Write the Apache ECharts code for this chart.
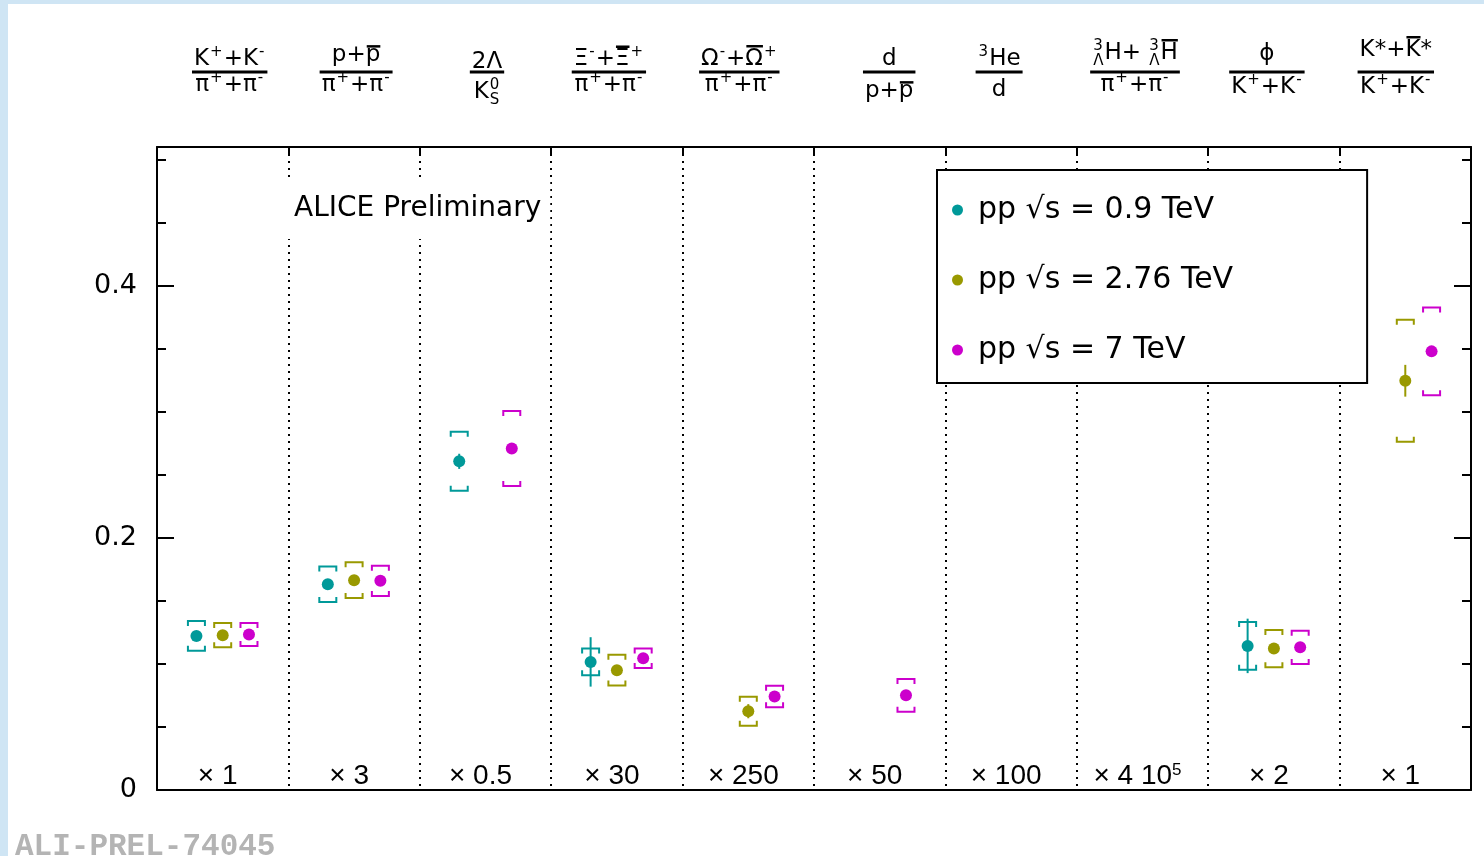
<!DOCTYPE html>
<html>
<head>
<meta charset="utf-8">
<script src="https://cdn.jsdelivr.net/npm/echarts@6/dist/echarts.min.js"></script>
<style>
  html, body { margin: 0; padding: 0; background: #fff; }
  #chart { width: 1484px; height: 856px; }
</style>
</head>
<body>
<div id="chart"></div>
<script>
// ---- particle ratio labels (TLatex-like markup: ^{} sup, _{} sub, #bar{} overline) ----
const numerators = ['K^{+}+K^{-}', 'p+#bar{p}', '2Λ', 'Ξ^{-}+#bar{Ξ}^{+}', 'Ω^{-}+#bar{Ω}^{+}',
                    'd', '^{3}He', '^{3}_{Λ}H+ ^{3}_{Λ}#bar{H}', 'ϕ', 'K*+#bar{K}*'];
const denominators = ['π^{+}+π^{-}', 'π^{+}+π^{-}', 'K^{0}_{S}', 'π^{+}+π^{-}', 'π^{+}+π^{-}',
                      'p+#bar{p}', 'd', 'π^{+}+π^{-}', 'K^{+}+K^{-}', 'K^{+}+K^{-}'];
const multipliers = ['× 1', '× 3', '× 0.5', '× 30', '× 250', '× 50', '× 100', '× 4 10^5', '× 2', '× 1'];

// ---- measured ratios (scaled), systematic and statistical uncertainties ----
const seriesNames = ['pp √s = 0.9 TeV', 'pp √s = 2.76 TeV', 'pp √s = 7 TeV'];
const ratio09  = [0.1222, 0.1632, 0.2607, 0.1016, null, null, null, null, 0.1143, null];
const sys09    = [0.0118, 0.0141, 0.0234, 0.0106, null, null, null, null, 0.0189, null];
const stat09   = [0.0020, 0.0020, 0.0060, 0.0196, null, null, null, null, 0.0216, null];
const ratio276 = [0.1228, 0.1664, null, 0.0950, 0.0625, null, null, null, 0.1122, 0.3246];
const sys276   = [0.0096, 0.0142, null, 0.0122, 0.0115, null, null, null, 0.0148, 0.0483];
const stat276  = [0.0020, 0.0020, null, 0.0030, 0.0056, null, null, null, 0.0030, 0.0126];
const ratio7   = [0.1233, 0.1659, 0.2709, 0.1045, 0.0741, 0.0751, null, null, 0.1132, 0.3479];
const sys7     = [0.0091, 0.0120, 0.0298, 0.0078, 0.0085, 0.0130, null, null, 0.0132, 0.0348];
const stat7    = [0.0020, 0.0020, 0.0030, 0.0020, 0.0030, 0.0040, null, null, 0.0030, 0.0040];
const yTicks = [0, 0.2, 0.4];

// ---- styling ----
const FONT = '"DejaVu Sans", "Liberation Sans", Arial, sans-serif';
const NARROW_FONT = '"Liberation Sans", Arial, Helvetica, sans-serif';
const COLORS = ['#009999', '#999900', '#cc00cc'];
const X_OFFSETS = [-0.2, 0, 0.2];
const HEAD_SIZE = 23;
const HEAD_SHIFT = [7, 2, 1.5, -8, -9, 9.5, -12, -7.5, -7, -9.5];
const NUM_BASE = [67, 63, 70, 67.5, 67, 67, 67, 61, 62, 58];
const DEN_BASE = [93, 93, 100, 93, 93, 99, 98, 93, 95, 95];
const FRAC_Y = 70.5;

const chart = echarts.init(document.getElementById('chart'), null, { renderer: 'canvas' });

function buildData(vals, sys, stat, k) {
  const out = [];
  vals.forEach((v, i) => {
    if (v != null) out.push([i + 0.5 + X_OFFSETS[k], v, sys[i], stat[i]]);
  });
  return out;
}

// one point: filled circle, vertical statistical bar, square brackets for systematics
function renderPoint(params, api) {
  const x = api.value(0), y = api.value(1), sys = api.value(2), st = api.value(3);
  const c = api.coord([x, y]);
  const top = api.coord([x, y + sys])[1];
  const bot = api.coord([x, y - sys])[1];
  const sT = api.coord([x, y + st])[1];
  const sB = api.coord([x, y - st])[1];
  const color = api.visual('color');
  const hw = 8.5, leg = 5;
  const ls = { stroke: color, lineWidth: 2, fill: null };
  return {
    type: 'group',
    children: [
      { type: 'polyline', shape: { points: [[c[0] - hw, top + leg], [c[0] - hw, top], [c[0] + hw, top], [c[0] + hw, top + leg]] }, style: ls },
      { type: 'polyline', shape: { points: [[c[0] - hw, bot - leg], [c[0] - hw, bot], [c[0] + hw, bot], [c[0] + hw, bot - leg]] }, style: ls },
      { type: 'line', shape: { x1: c[0], y1: sT, x2: c[0], y2: sB }, style: { stroke: color, lineWidth: 2 } },
      { type: 'circle', shape: { cx: c[0], cy: c[1], r: 6 }, style: { fill: color } }
    ]
  };
}

const seriesData = [
  buildData(ratio09, sys09, stat09, 0),
  buildData(ratio276, sys276, stat276, 1),
  buildData(ratio7, sys7, stat7, 2)
];

const axisBase = { type: 'value', min: 0, max: 0.51 };
const blackLine = { show: true, onZero: false, lineStyle: { color: '#000', width: 2 } };
const noLine = { show: false, onZero: false };

chart.setOption({
  animation: false,
  backgroundColor: '#fff',
  title: {
    text: 'ALICE Preliminary',
    left: 284, top: 179,
    padding: [14, 9, 15, 10],
    backgroundColor: '#fff',
    textStyle: { fontFamily: FONT, fontSize: 28, fontWeight: 'normal', color: '#000', lineHeight: 31 }
  },
  legend: {
    left: 937, top: 170,
    orient: 'vertical',
    selectedMode: false,
    data: seriesNames,
    icon: 'circle',
    itemWidth: 11, itemHeight: 11, itemGap: 34,
    backgroundColor: '#fff', borderColor: '#000', borderWidth: 2, borderRadius: 0,
    padding: [22, 134, 15, 15],
    textStyle: { fontFamily: FONT, fontSize: 30, color: '#000', lineHeight: 36, padding: [0, 0, 0, 10] }
  },
  grid: { left: 157, top: 147, right: 13, bottom: 66, containLabel: false },
  xAxis: [
    { type: 'value', min: 0, max: 10, interval: 1, position: 'bottom',
      axisLine: blackLine,
      axisTick: { show: false }, axisLabel: { show: false },
      splitLine: { show: true, lineStyle: { color: '#000', width: 2, type: [2, 5] } } },
    { type: 'value', min: 0, max: 10, interval: 1, position: 'top',
      axisLine: blackLine,
      axisTick: { show: true, inside: true, length: 8, lineStyle: { color: '#000', width: 2 } },
      axisLabel: { show: false }, splitLine: { show: false } },
    { type: 'category', data: multipliers, position: 'bottom', boundaryGap: true,
      axisLine: noLine, axisTick: { show: false }, splitLine: { show: false },
      axisLabel: {
        inside: true, margin: 0, interval: 0,
        fontFamily: NARROW_FONT, fontSize: 28, color: '#000', lineHeight: 28,
        padding: [0, 10, 0, 0],
        formatter: v => v.replace(/\^(\w+)/, '{sup|$1}'),
        rich: { sup: { fontFamily: NARROW_FONT, fontSize: 17, lineHeight: 17, verticalAlign: 'top', padding: [0, 0, 14, 0] } }
      } }
  ],
  yAxis: [
    Object.assign({}, axisBase, { position: 'left', interval: 0.2,
      axisLine: blackLine,
      axisTick: { show: true, inside: true, length: 17, lineStyle: { color: '#000', width: 2 } },
      axisLabel: { show: true, margin: 20, fontFamily: FONT, fontSize: 27, color: '#000', showMaxLabel: false,
        formatter: v => (yTicks.some(t => Math.abs(t - v) < 1e-9) ? (v === 0 ? '0' : v.toFixed(1)) : '') },
      splitLine: { show: false } }),
    Object.assign({}, axisBase, { position: 'left', interval: 0.05,
      axisLine: noLine,
      axisTick: { show: true, inside: true, length: 9, lineStyle: { color: '#000', width: 2 } },
      axisLabel: { show: false }, splitLine: { show: false } }),
    Object.assign({}, axisBase, { position: 'right', interval: 0.2,
      axisLine: blackLine,
      axisTick: { show: true, inside: true, length: 17, lineStyle: { color: '#000', width: 2 } },
      axisLabel: { show: false }, splitLine: { show: false } }),
    Object.assign({}, axisBase, { position: 'right', interval: 0.05,
      axisLine: noLine,
      axisTick: { show: true, inside: true, length: 9, lineStyle: { color: '#000', width: 2 } },
      axisLabel: { show: false }, splitLine: { show: false } })
  ],
  series: seriesNames.map((name, k) => ({
    name, type: 'custom', xAxisIndex: 0, yAxisIndex: 0,
    itemStyle: { color: COLORS[k] },
    renderItem: renderPoint,
    encode: { x: 0, y: 1 },
    data: seriesData[k],
    z: 5
  }))
});

// ---- column headers: small TLatex-like typesetter ----
const mctx = document.createElement('canvas').getContext('2d');
function measure(txt, size) { mctx.font = size + 'px ' + FONT; return mctx.measureText(txt).width; }

function parse(s) {
  const out = [];
  let i = 0;
  while (i < s.length) {
    const ch = s[i];
    if (ch === '^' || ch === '_') {
      const j = s.indexOf('}', i);
      const txt = s.slice(i + 2, j);
      i = j + 1;
      const prev = out[out.length - 1];
      if (prev && prev.type === 'script' && prev[ch] === undefined) prev[ch] = txt;
      else out.push({ type: 'script', [ch]: txt });
    } else if (s.startsWith('#bar{', i)) {
      const j = s.indexOf('}', i);
      out.push({ type: 'text', t: s.slice(i + 5, j), bar: true });
      i = j + 1;
    } else {
      let j = i;
      while (j < s.length && s[j] !== '^' && s[j] !== '_' && !s.startsWith('#bar{', j)) j++;
      out.push({ type: 'text', t: s.slice(i, j) });
      i = j;
    }
  }
  return out;
}

function layoutExpr(src, size) {
  const ss = Math.round(size * 0.64);
  const items = [];
  let x = 0;
  parse(src).forEach(tk => {
    if (tk.type === 'text') {
      const w = measure(tk.t, size);
      items.push({ text: tk.t, x, dy: 0, size, w, bar: !!tk.bar });
      x += w;
    } else {
      let w = 0;
      if (tk['^'] !== undefined) { w = Math.max(w, measure(tk['^'], ss)); items.push({ text: tk['^'], x: x + 1, dy: -size * 0.42, size: ss }); }
      if (tk['_'] !== undefined) { w = Math.max(w, measure(tk['_'], ss)); items.push({ text: tk['_'], x: x + 1, dy: size * 0.24, size: ss }); }
      x += w + 2;
    }
  });
  return { items, width: x };
}

function exprElements(lay, cx, base) {
  const els = [];
  const x0 = cx - lay.width / 2;
  lay.items.forEach(it => {
    const by = base + it.dy;
    els.push({
      type: 'text', silent: true,
      style: { text: it.text, x: x0 + it.x, y: by - 0.35 * it.size, font: it.size + 'px ' + FONT,
               fill: '#000', align: 'left', verticalAlign: 'middle' }
    });
    if (it.bar) {
      const h = /^[a-z]+$/.test(it.text) ? 0.56 * it.size : 0.74 * it.size;
      els.push({ type: 'rect', silent: true,
        shape: { x: x0 + it.x + 1, y: base - h - 5, width: it.w - 1, height: 2.5 },
        style: { fill: '#000' } });
    }
  });
  return els;
}

function buildGraphics() {
  const g = [
    { type: 'rect', silent: true, shape: { x: 0, y: 0, width: 8, height: 856 }, style: { fill: '#cfe5f4' } },
    { type: 'rect', silent: true, shape: { x: 0, y: 0, width: 1484, height: 4 }, style: { fill: '#cfe5f4' } },
    { type: 'text', silent: true, left: 15, top: 832,
      style: { text: 'ALI-PREL-74045', font: 'bold 31px "Liberation Mono", "Courier New", monospace', fill: '#b4b4b4' } }
  ];
  numerators.forEach((num, i) => {
    const cx = chart.convertToPixel({ xAxisIndex: 0 }, i + 0.5) + HEAD_SHIFT[i];
    const ln = layoutExpr(num, HEAD_SIZE);
    const ld = layoutExpr(denominators[i], HEAD_SIZE);
    const w = Math.max(ln.width, ld.width) + 4;
    g.push(...exprElements(ln, cx, NUM_BASE[i]));
    g.push(...exprElements(ld, cx, DEN_BASE[i]));
    g.push({ type: 'rect', silent: true, shape: { x: cx - w / 2, y: FRAC_Y, width: w, height: 3 }, style: { fill: '#000' } });
  });
  return g;
}

chart.setOption({ graphic: buildGraphics() });
</script>
</body>
</html>
